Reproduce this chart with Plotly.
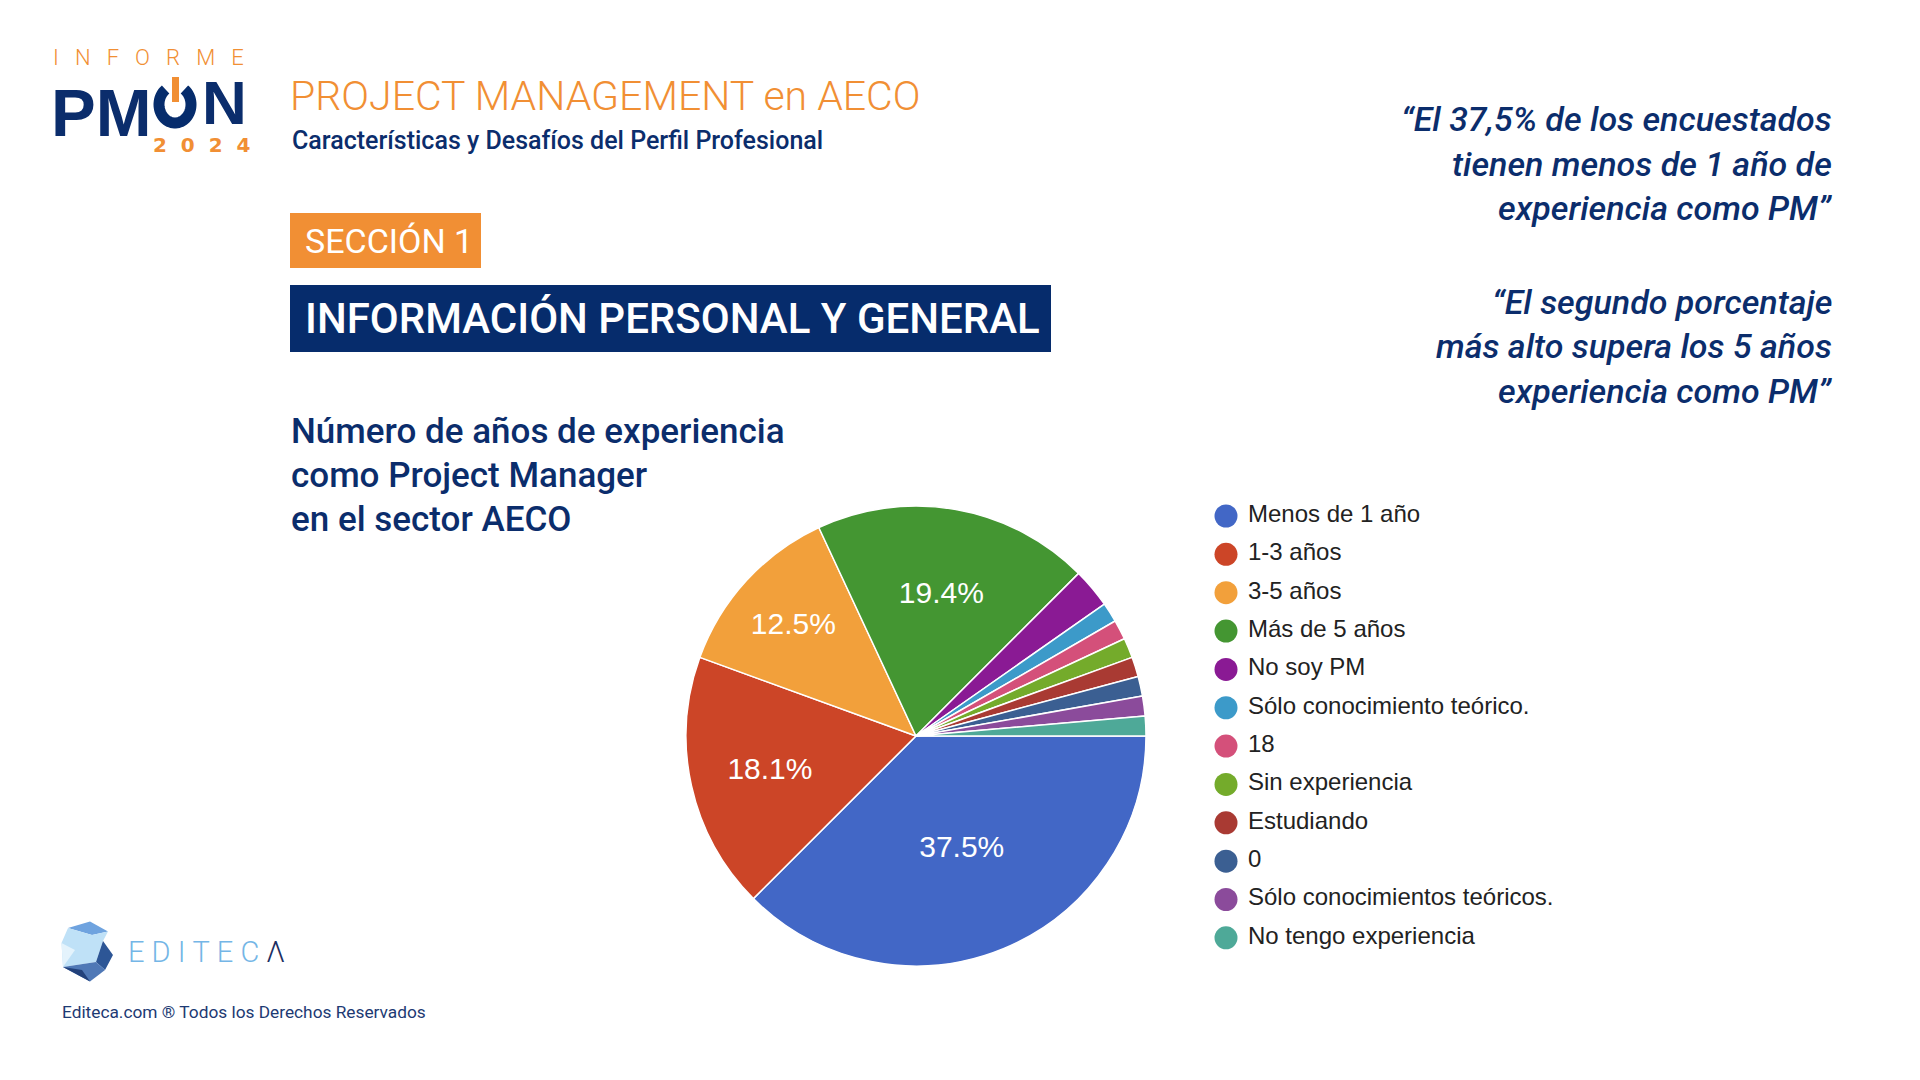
import numpy as np
import plotly.graph_objects as go

W, H = 1920, 1080

# ---------------- data ----------------
categories = [
    "Menos de 1 año", "1-3 años", "3-5 años", "Más de 5 años", "No soy PM",
    "Sólo conocimiento teórico.", "18", "Sin experiencia", "Estudiando", "0",
    "Sólo conocimientos teóricos.", "No tengo experiencia",
]
responses = [27, 13, 9, 14, 2, 1, 1, 1, 1, 1, 1, 1]
slice_colors = [
    "#4267c6", "#cc4527", "#f2a03b", "#449632", "#8a1a94", "#3c9ac9",
    "#d4507a", "#74ab2b", "#a93a33", "#3b5f92", "#8b4b9b", "#4ea998",
]
show_pct = [True, True, True, True, False, False, False, False, False, False, False, False]

NAVY = "#0b2d6c"
ORANGE = "#f18f34"


def X(p):
    return p / W


def Y(p):
    return 1 - p / H


fig = go.Figure()

# ---------------- pie ----------------
cx, cy, R = 916, 736, 230
fig.add_trace(go.Pie(
    labels=categories, values=responses, sort=False,
    direction="clockwise", rotation=90,
    marker=dict(colors=slice_colors, line=dict(color="white", width=1.5)),
    texttemplate=["%{percent:.1%}" if s else "" for s in show_pct],
    textposition="inside", insidetextorientation="horizontal",
    textfont=dict(family="Liberation Sans, Arial, sans-serif", size=30, color="white"),
    domain=dict(x=[X(cx - R), X(cx + R)], y=[Y(cy + R), Y(cy - R)]),
    showlegend=False, hoverinfo="label+percent",
))

# ---------------- custom legend (circle swatches) ----------------
idx = list(range(len(categories)))
fig.add_trace(go.Scatter(
    x=[0] * len(categories), y=idx, mode="markers",
    marker=dict(size=23, color=slice_colors),
    xaxis="x", yaxis="y", showlegend=False, hoverinfo="skip", cliponaxis=False,
))
fig.add_trace(go.Scatter(
    x=[22] * len(categories), y=idx, mode="text",
    text=categories, textposition="middle right",
    textfont=dict(family="Liberation Sans, Arial, sans-serif", size=24, color="#222222"),
    xaxis="x", yaxis="y", showlegend=False, hoverinfo="skip", cliponaxis=False,
))
row0, row_gap = 516, 38.35
fig.update_layout(
    xaxis=dict(domain=[X(1152), X(1728)], range=[-74, 502], visible=False, fixedrange=True),
    yaxis=dict(domain=[Y(row0 + row_gap * 11.5), Y(row0 - row_gap * 0.5)],
               range=[11.5, -0.5], visible=False, fixedrange=True),
)

# ---------------- shapes (boxes, logo graphics) ----------------
shapes = []
shapes.append(dict(type="rect", xref="paper", yref="paper",
                   x0=X(290), x1=X(481), y0=Y(268), y1=Y(213),
                   fillcolor=ORANGE, line=dict(width=0), layer="below"))
shapes.append(dict(type="rect", xref="paper", yref="paper",
                   x0=X(290), x1=X(1051), y0=Y(352), y1=Y(285),
                   fillcolor="#062c6c", line=dict(width=0), layer="below"))

# power-button "O" in logo
ocx, ocy, orx, ory = 175, 104.5, 16, 18.5
t = np.radians(np.linspace(36, 324, 60))
pts = [(ocx + orx * np.sin(a), ocy - ory * np.cos(a)) for a in t]
path = "M " + " L ".join(f"{X(x):.5f},{Y(y):.5f}" for x, y in pts)
shapes.append(dict(type="path", xref="paper", yref="paper", path=path,
                   line=dict(color="#062c6c", width=11)))
shapes.append(dict(type="rect", xref="paper", yref="paper",
                   x0=X(172), x1=X(179), y0=Y(102), y1=Y(77),
                   fillcolor=ORANGE, line=dict(width=0)))


def poly(points, color):
    p = "M " + " L ".join(f"{X(x):.5f},{Y(y):.5f}" for x, y in points) + " Z"
    return dict(type="path", xref="paper", yref="paper", path=p,
                fillcolor=color, line=dict(width=0))


# EDITECA crystal icon
A, B, C = (68, 928), (90, 921.5), (108, 931.5)
D, E, F = (103, 941), (113, 955), (105, 970)
G, Hh, I = (90, 981.5), (63, 967), (61.5, 943)
M1, M2 = (92, 935), (96, 962)
shapes.append(poly([A, B, C, M1], "#6fa3df"))
shapes.append(poly([A, M1, C, D, M2, Hh, I], "#bfe1f7"))
shapes.append(poly([I, (75, 950), Hh], "#e4f3fc"))
shapes.append(poly([D, E, F, M2], "#2d5696"))
shapes.append(poly([Hh, M2, F, G], "#4f78b6"))
shapes.append(poly([Hh, (82, 970), G], "#22417b"))

# ---------------- annotations (text) ----------------
ann = []


def txt(text, x, y, size, color, xanchor="left", family="Roboto, sans-serif",
        weight=400, italic=False, yanchor="middle"):
    ann.append(dict(
        text=text, x=X(x), y=Y(y), xref="paper", yref="paper",
        xanchor=xanchor, yanchor=yanchor, showarrow=False,
        align=xanchor if xanchor != "center" else "center",
        font=dict(family=family, size=size, color=color, weight=weight,
                  style="italic" if italic else "normal"),
    ))


sp = "\u00a0\u00a0\u00a0"
# logo
txt(sp.join("INFORME"), 51, 58, 22, ORANGE, weight=300)
bold = "Liberation Sans, Arial, sans-serif"
txt("PM", 49, 112, 67, NAVY, family=bold, weight=700)
txt("N", 200, 103, 62, NAVY, family=bold, weight=700)
txt("2\u00a0\u00a00\u00a0\u00a02\u00a0\u00a04", 151, 145, 20, ORANGE, family="DejaVu Sans, sans-serif", weight=700)

# header titles
txt("PROJECT MANAGEMENT en AECO", 288, 96, 41, ORANGE, weight=300)
txt("Características y Desafíos del Perfil Profesional", 290, 140, 25, NAVY, weight=500)

# section boxes
txt("SECCIÓN 1", 303, 241, 34, "white", weight=400)
txt("INFORMACIÓN PERSONAL Y GENERAL", 303, 318, 42, "white", weight=500)

# chart title
for i, line in enumerate(["Número de años de experiencia", "como Project Manager", "en el sector AECO"]):
    txt(line, 289, 431 + 44.5 * i, 35, NAVY, weight=500)

# quotes
quote1 = ["“El 37,5% de los encuestados", "tienen menos de 1 año de", "experiencia como PM”"]
quote2 = ["“El segundo porcentaje", "más alto supera los 5 años", "experiencia como PM”"]
for i, line in enumerate(quote1):
    txt(line, 1834, 119 + 44.5 * i, 34, NAVY, xanchor="right", weight=500, italic=True)
for i, line in enumerate(quote2):
    txt(line, 1834, 302 + 44.5 * i, 34, NAVY, xanchor="right", weight=500, italic=True)

# footer
txt("E\u00a0D\u00a0I\u00a0T\u00a0E\u00a0C\u00a0<span style='color:#1c2f63'>Λ</span>",
    126, 952, 29, "#74b6e6", weight=300)
txt("Editeca.com ® Todos los Derechos Reservados", 60, 1012, 17.3, "#1d3a73", weight=400)

fig.update_layout(
    width=W, height=H, autosize=False,
    margin=dict(l=0, r=0, t=0, b=0),
    paper_bgcolor="white", plot_bgcolor="white",
    shapes=shapes, annotations=ann,
)

fig.write_html("out.html")
